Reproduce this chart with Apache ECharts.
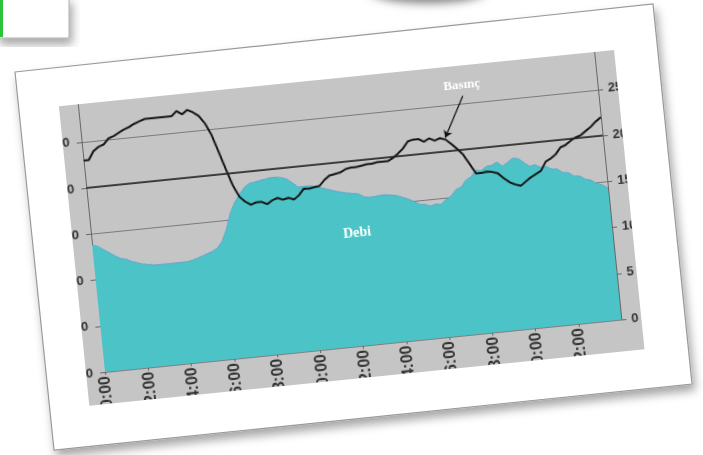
<!DOCTYPE html>
<html><head><meta charset="utf-8">
<script src="https://cdn.jsdelivr.net/npm/echarts@6/dist/echarts.min.js"></script>
<style>
html,body{margin:0;padding:0;width:703px;height:455px;overflow:hidden;background:#fff;}
#deco{position:absolute;left:0;top:0;}
#wrap{position:absolute;left:86px;top:103px;width:558px;height:301px;overflow:hidden;background:#c5c5c5;transform-origin:19px 269px;transform:rotate(-5.8deg);}
#chart{position:absolute;left:-60px;top:-30px;width:700px;height:360px;}
</style></head><body>
<svg id="deco" width="703" height="455">
  <defs>
    <filter id="sh" x="-10%" y="-10%" width="125%" height="130%"><feDropShadow dx="3" dy="6" stdDeviation="5" flood-color="#000" flood-opacity="0.35"/></filter>
    <filter id="bl" x="-50%" y="-100%" width="200%" height="300%"><feGaussianBlur stdDeviation="5"/></filter>
  </defs>
  <ellipse cx="428" cy="-9" rx="58" ry="12" fill="#7a7a7a" filter="url(#bl)"/>
  <rect x="-3" y="-3" width="72" height="41" fill="#fff" stroke="#aaa" stroke-width="1" filter="url(#sh)"/>
  <rect x="0" y="0" width="3" height="37" fill="#2cc23a"/>
  <polygon points="15,72 653,4 692,384 54,450" fill="#fff" stroke="#9a9a9a" stroke-width="1.2" filter="url(#sh)"/>
</svg>
<div id="wrap"><div id="chart"></div></div>
<script>
// time categories (15-minute steps, 00:00 .. 24:00)
const categories = ["00:00","00:15","00:30","00:45","01:00","01:15","01:30","01:45","02:00","02:15","02:30","02:45","03:00","03:15","03:30","03:45","04:00","04:15","04:30","04:45","05:00","05:15","05:30","05:45","06:00","06:15","06:30","06:45","07:00","07:15","07:30","07:45","08:00","08:15","08:30","08:45","09:00","09:15","09:30","09:45","10:00","10:15","10:30","10:45","11:00","11:15","11:30","11:45","12:00","12:15","12:30","12:45","13:00","13:15","13:30","13:45","14:00","14:15","14:30","14:45","15:00","15:15","15:30","15:45","16:00","16:15","16:30","16:45","17:00","17:15","17:30","17:45","18:00","18:15","18:30","18:45","19:00","19:15","19:30","19:45","20:00","20:15","20:30","20:45","21:00","21:15","21:30","21:45","22:00","22:15","22:30","22:45","23:00","23:15","23:30","23:45","24:00"];

// Basınç (pressure) – right axis
const basinc = [23.0,23.0,23.9,24.3,24.5,25.1,25.3,25.6,25.9,26.1,
  26.4,26.6,26.8,26.8,26.8,26.8,26.8,26.8,27.3,26.9,
  27.3,27.0,26.55,25.7,24.4,22.5,20.55,18.7,17.4,16.8,
  16.4,16.6,16.6,16.3,16.65,16.85,16.6,16.75,16.5,16.9,
  17.55,17.5,17.6,17.7,18.3,18.7,18.8,18.9,19.2,19.3,
  19.3,19.4,19.5,19.5,19.6,19.6,19.6,19.9,20.3,20.8,
  21.5,21.65,21.65,21.3,21.6,21.3,21.5,21.3,20.75,20.15,
  19.45,18.4,17.3,17.3,17.4,17.3,17.1,16.5,16.0,15.7,
  15.5,15.9,16.3,16.6,16.9,17.8,18.1,18.5,19.2,19.4,
  19.8,20.1,20.3,20.7,21.1,21.6,22.0];

// Debi (flow) – left axis
const debi = [27.6,27.2,26.4,25.6,24.8,24.1,23.8,23.2,22.8,22.4,
  22.2,22.0,21.9,21.9,21.9,21.9,21.9,21.9,22.1,22.4,
  22.8,23.2,23.6,24.2,25.6,28.0,31.4,33.6,35.2,36.6,
  37.4,37.6,37.8,38.0,38.2,38.2,38.0,37.6,36.6,35.6,
  35.6,35.6,35.4,35.0,34.6,34.2,33.8,33.5,33.2,33.0,
  32.8,32.0,31.8,31.9,32.0,32.0,31.8,31.6,31.1,30.6,
  30.0,29.2,29.1,28.6,28.9,28.7,29.7,30.3,31.6,32.0,
  33.4,34.0,35.3,35.1,35.9,36.0,36.6,35.6,36.3,37.1,
  36.9,35.9,35.0,35.2,34.5,34.6,33.9,33.8,32.9,32.8,
  31.9,31.8,31.0,30.7,29.8,29.4,28.6];

const leftAxis = {min:0, max:60, step:10};
const rightAxis = {min:0, max:30, step:5};
const refLine = 40;          // dark line (left axis units)
const arrowFrom = ["17:45", 25.8], arrowTo = ["16:45", 21.5];
const basincLabelAt = ["17:45", 26.95];
const debiLabelAt = ["12:15", 24.3];

const every2h = (i) => i % 8 === 0 && i < categories.length - 1;
const lblFont = {fontFamily:'Liberation Sans, Arial, sans-serif', fontWeight:'bold', color:'#333'};

const chart = echarts.init(document.getElementById('chart'), null, {renderer:'canvas'});
chart.setOption({
  animation:false,
  backgroundColor:'transparent',
  grid:{left:79, top:21.7, width:519, height:277.3, containLabel:false, outerBoundsMode:'none'},
  xAxis:{type:'category', boundaryGap:false, data:categories,
    axisLine:{show:true, lineStyle:{color:'#808080', width:1}},
    axisTick:{show:true, interval:every2h, length:3, lineStyle:{color:'#666'}},
    axisLabel:Object.assign({interval:every2h, rotate:90, margin:4, fontSize:16}, lblFont),
    splitLine:{show:false}},
  yAxis:[
    {type:'value', position:'left', min:leftAxis.min, max:leftAxis.max, interval:leftAxis.step,
     axisLine:{show:true, lineStyle:{color:'#666', width:1}},
     axisTick:{show:true, length:5, lineStyle:{color:'#666'}},
     axisLabel:Object.assign({margin:12, fontSize:13}, lblFont),
     splitLine:{show:true, lineStyle:{color:'#7a7a7a', width:1}}},
    {type:'value', position:'right', min:rightAxis.min, max:rightAxis.max, interval:rightAxis.step,
     axisLine:{show:true, lineStyle:{color:'#666', width:1}},
     axisTick:{show:true, length:5, lineStyle:{color:'#666'}},
     axisLabel:Object.assign({margin:10, fontSize:13}, lblFont),
     splitLine:{show:false}}
  ],
  series:[
    {name:'Debi', type:'line', yAxisIndex:0, data:debi, symbol:'none', z:2,
     lineStyle:{color:'#5aa4cf', width:1},
     areaStyle:{color:'#4cc4c7', opacity:1},
     markLine:{silent:true, symbol:['none','none'], label:{show:false},
       lineStyle:{color:'#1e1e1e', width:1.6, type:'solid'}, data:[{yAxis:refLine}]},
     markPoint:{silent:true, data:[{coord:debiLabelAt, symbol:'rect', symbolSize:1, itemStyle:{color:'transparent'},
       label:{show:true, position:'inside', formatter:'Debi', color:'#fff', fontFamily:'Liberation Serif, Times New Roman, serif', fontWeight:'bold', fontSize:14}}]}},
    {name:'Basınç', type:'line', yAxisIndex:1, data:basinc, symbol:'none', z:3,
     lineStyle:{color:'#151515', width:2},
     markLine:{silent:true, symbol:['none','arrow'], symbolSize:7, label:{show:false},
       lineStyle:{color:'#111', width:1.3, type:'solid'},
       data:[[{coord:arrowFrom},{coord:arrowTo}]]},
     markPoint:{silent:true, data:[{coord:basincLabelAt, symbol:'rect', symbolSize:1, itemStyle:{color:'transparent'},
       label:{show:true, position:'inside', formatter:'Basınç', color:'#fff', fontFamily:'Liberation Serif, Times New Roman, serif', fontWeight:'bold', fontSize:13}}]}}
  ]
});
</script>
</body></html>
